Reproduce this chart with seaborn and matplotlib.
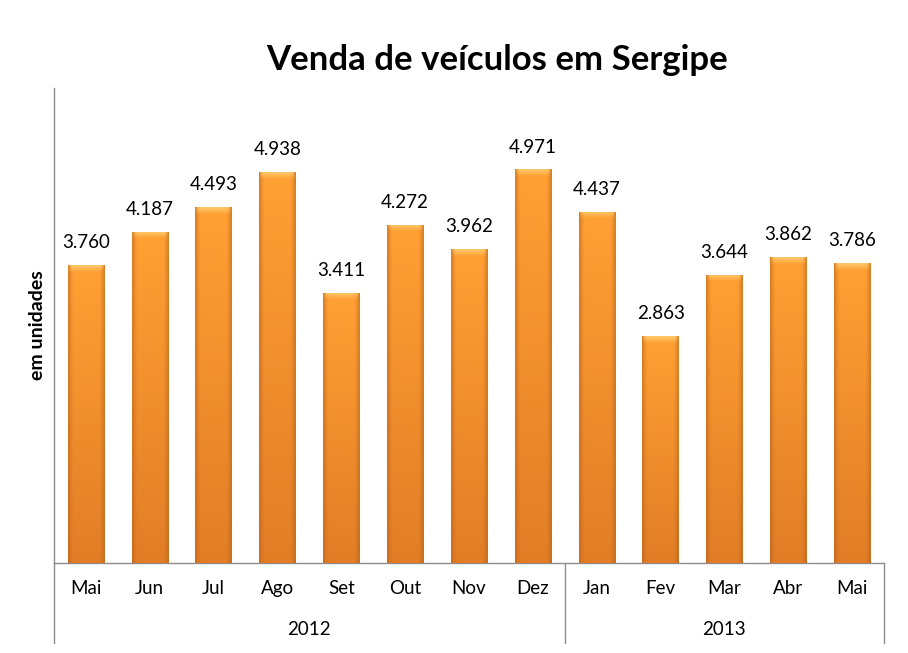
import numpy as np
import pandas as pd
import seaborn as sns
import matplotlib.pyplot as plt
from matplotlib.colors import to_rgb
import matplotlib.transforms as mtransforms

months = ["Mai", "Jun", "Jul", "Ago", "Set", "Out", "Nov", "Dez",
          "Jan", "Fev", "Mar", "Abr", "Mai"]
years = ["2012", "2013"]
year_sizes = [8, 5]
sales = [3760, 4187, 4493, 4938, 3411, 4272, 3962, 4971,
         4437, 2863, 3644, 3862, 3786]

sns.set_theme(style="white")
plt.rcParams['font.family'] = ['Lato', 'DejaVu Sans']
plt.rcParams['text.color'] = "black"
plt.rcParams['axes.labelcolor'] = "black"

df = pd.DataFrame({"pos": range(len(sales)), "vendas": sales})

fig = plt.figure(figsize=(9.08, 6.53), dpi=100)
ax = fig.add_axes([0.0595, 0.1378, 0.9141, 0.7274])
sns.barplot(data=df, x="pos", y="vendas", color="#F7922B", width=0.57,
            ax=ax, saturation=1)

ax.set_ylim(0, 6000)
ax.set_xlim(-0.5, len(sales) - 0.5)

# gradient fill for each bar (darker sides, lighter top cap)
base_bot = np.array(to_rgb("#E27D26"))
base_top = np.array(to_rgb("#FFA134"))
edge = np.array(to_rgb("#B45E1A"))
cap = np.array(to_rgb("#FFD67E"))
for p in ax.patches:
    x0, w, h = p.get_x(), p.get_width(), p.get_height()
    nr = max(int(h / 10), 2)
    nc = 60
    t = np.linspace(0, 1, nr)[:, None, None]
    col = base_bot * (1 - t) + base_top * t
    xs = np.linspace(0, 1, nc)
    d = np.minimum(xs, 1 - xs)
    wgt = np.clip(1 - d / 0.16, 0, 1) ** 1.5 * 0.55
    img = col * (1 - wgt[None, :, None]) + edge * wgt[None, :, None]
    # top cap
    ytop = np.linspace(0, h, nr)
    capw = np.clip(1 - (h - ytop) / 85, 0, 1)[:, None, None] * 0.75
    capw = capw * np.clip(d / 0.1, 0, 1)[None, :, None]
    img = img * (1 - capw) + cap * capw
    im = ax.imshow(img, extent=[x0, x0 + w, 0, h], origin="lower",
                   aspect="auto", zorder=3, interpolation="bilinear")
    im.set_clip_path(p)
    p.set_edgecolor("none")

ax.set_ylim(0, 6000)
ax.set_xlim(-0.5, len(sales) - 0.5)

for i, v in enumerate(sales):
    ax.annotate(f"{v/1000:.3f}", (i, v), xytext=(0, 10), textcoords="offset points",
                ha="center", va="bottom", fontsize=13.5, color="black")

ax.set_yticks([])
ax.set_xticks([])
ax.set_xlabel("")
ax.set_ylabel("em unidades", fontsize=14, fontweight="bold", labelpad=6)
for s in ["top", "right"]:
    ax.spines[s].set_visible(False)
for s in ["left", "bottom"]:
    ax.spines[s].set_color("#8C8C8C")
    ax.spines[s].set_linewidth(1)

trans = mtransforms.blended_transform_factory(ax.transData, ax.transAxes)
for i, m in enumerate(months):
    ax.text(i, -0.053, m, transform=trans, ha="center", va="center", fontsize=13.5)

start = -0.5
for yr, n in zip(years, year_sizes):
    ax.text(start + n / 2, -0.141, yr, transform=trans, ha="center", va="center",
            fontsize=13.5)
    start += n
    ax.plot([start, start], [0, -0.168], transform=trans, color="#8C8C8C",
            lw=1, clip_on=False)
ax.plot([-0.5, -0.5], [0, -0.168], transform=trans, color="#8C8C8C",
        lw=1, clip_on=False)

fig.text(0.547, 0.908, "Venda de veículos em Sergipe", ha="center", va="center",
         fontsize=25, fontweight="bold", color="black")

fig.savefig("out.png", dpi=100)
